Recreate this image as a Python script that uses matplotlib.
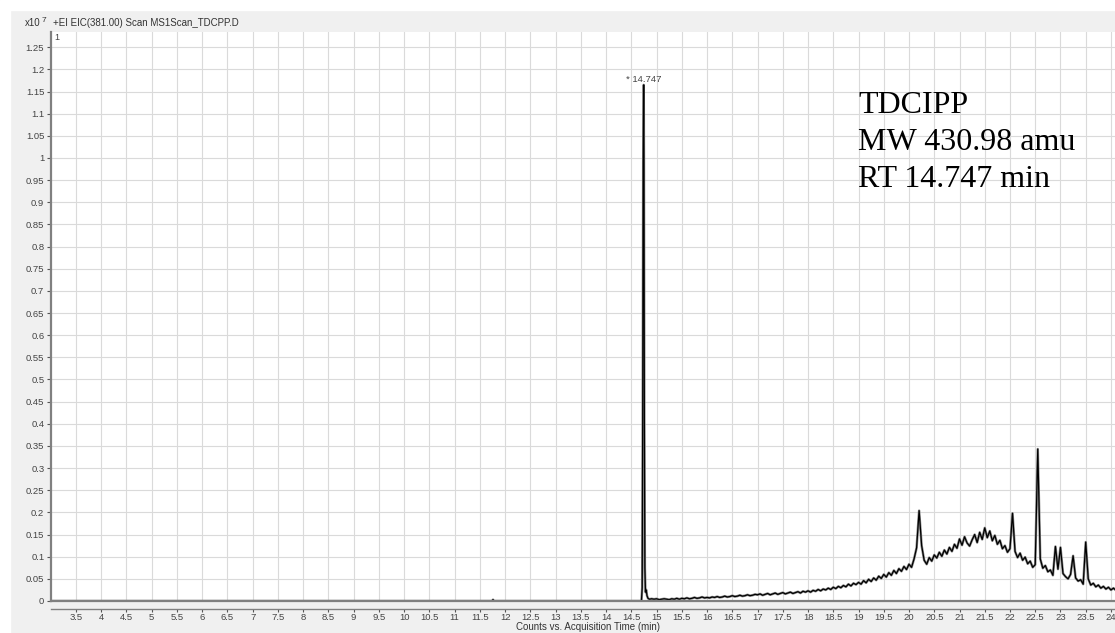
import numpy as np
import matplotlib.pyplot as plt
from matplotlib.patches import Rectangle
from matplotlib.ticker import FuncFormatter

# flat trace before the peak (time in min, counts in units of 1e7)
pre_rt = [2.99, 11.74, 11.76, 11.78, 14.70]
pre_int = [0.0, 0.0, 0.003, 0.0, 0.0]

# the TDCIPP peak
peak_rt = [14.715, 14.725, 14.735, 14.745, 14.750, 14.758, 14.768,
           14.78, 14.795, 14.81, 14.83, 14.86, 14.90, 14.95]
peak_int = [0.03, 0.41, 0.99, 1.165, 0.99, 0.41, 0.075,
            0.02, 0.025, 0.012, 0.006, 0.004, 0.005, 0.004]

# background hump, one reading every 0.05 min from 15.00 to 24.10
hump_int = [
    0.005, 0.003, 0.004, 0.005, 0.004, 0.003, 0.005, 0.004, 0.006, 0.004,
    0.006, 0.005, 0.007, 0.005, 0.006, 0.008, 0.006, 0.007, 0.009, 0.007,
    0.008, 0.007, 0.009, 0.008, 0.010, 0.008, 0.009, 0.011, 0.009, 0.010,
    0.012, 0.010, 0.011, 0.013, 0.011, 0.012, 0.014, 0.012, 0.013, 0.015,
    0.014, 0.016, 0.013, 0.015, 0.017, 0.014, 0.016, 0.018, 0.015, 0.017,
    0.019, 0.016, 0.018, 0.020, 0.017, 0.019, 0.021, 0.018, 0.022, 0.020,
    0.023, 0.020, 0.024, 0.022, 0.026, 0.023, 0.027, 0.025, 0.029, 0.026,
    0.031, 0.028, 0.033, 0.030, 0.035, 0.032, 0.038, 0.034, 0.040, 0.037,
    0.042, 0.038, 0.046, 0.041, 0.049, 0.044, 0.052, 0.047, 0.056, 0.051,
    0.060, 0.054, 0.064, 0.058, 0.069, 0.062, 0.073, 0.067, 0.078, 0.071,
    0.083, 0.076, 0.095, 0.120, 0.204, 0.125, 0.092, 0.083, 0.098, 0.090,
    0.104, 0.097, 0.110, 0.101, 0.115, 0.106, 0.121, 0.112, 0.128, 0.119,
    0.140, 0.126, 0.145, 0.131, 0.124, 0.138, 0.150, 0.132, 0.155, 0.139,
    0.165, 0.143, 0.158, 0.136, 0.148, 0.128, 0.137, 0.118, 0.125, 0.110,
    0.118, 0.198, 0.112, 0.098, 0.108, 0.092, 0.099, 0.084, 0.090, 0.076,
    0.082, 0.343, 0.095, 0.074, 0.080, 0.066, 0.070, 0.058, 0.123, 0.072,
    0.121, 0.062, 0.055, 0.050, 0.060, 0.102, 0.052, 0.045, 0.048, 0.038,
    0.133, 0.050, 0.036, 0.040, 0.032, 0.036, 0.029, 0.033, 0.027, 0.031,
    0.025, 0.029, 0.024,
]
hump_rt = list(np.round(15.0 + 0.05 * np.arange(len(hump_int)), 2))

rt = pre_rt + peak_rt + hump_rt
counts = pre_int + peak_int + hump_int

x_ticks = np.round(np.arange(3.5, 24.01, 0.5), 2)
y_ticks = np.round(np.arange(0, 1.2501, 0.05), 2)

bg = "#f0f0f0"
fig = plt.figure(figsize=(11.15, 6.33), dpi=100, facecolor=bg)
# thin white border on top and left like the screenshot
fig.patches.append(Rectangle((0, 0), 10 / 1115, 1, transform=fig.transFigure,
                             color="white", zorder=-1))
fig.patches.append(Rectangle((0, 1 - 10 / 633), 1, 10 / 633,
                             transform=fig.transFigure, color="white", zorder=-1))

ax = fig.add_axes([50.5 / 1115, 1 - 601 / 633, 1 - 50.5 / 1115, 569 / 633])
ax.set_facecolor("white")

ax.plot(rt, counts, color="#8a8a8a", lw=1.8)
ax.plot(rt, counts, color="black", lw=0.9)
ax.axhline(0, color="#808080", lw=1.6, clip_on=False, zorder=3)

fmt = FuncFormatter(lambda v, pos: f"{round(v, 2):g}")
ax.set_xticks(x_ticks)
ax.set_yticks(y_ticks)
ax.xaxis.set_major_formatter(fmt)
ax.yaxis.set_major_formatter(fmt)
ax.set_xlim(2.995, 24.08)
ax.set_ylim(0, 1.2844)

ax.grid(True, color="#dadada", lw=0.8)
ax.set_axisbelow(True)

for s in ["top", "right"]:
    ax.spines[s].set_visible(False)
ax.spines["left"].set_color("#808080")
ax.spines["left"].set_linewidth(1.6)
ax.spines["bottom"].set_position(("outward", 6))
ax.spines["bottom"].set_color("#808080")
ax.spines["bottom"].set_linewidth(1.0)

ax.tick_params(axis="both", labelsize=6.8, labelcolor="#444444",
               color="#555555", width=0.8)
ax.tick_params(axis="y", length=3, pad=1.5)
ax.tick_params(axis="x", length=2.5, pad=0)
for lab in ax.get_xticklabels() + ax.get_yticklabels():
    lab.set_family("Liberation Sans")

fig.text(588 / 1115, 1 - 627 / 633, "Counts vs. Acquisition Time (min)",
         fontsize=7, family="Liberation Sans", color="#333333",
         ha="center", va="center")

ax.annotate("* 14.747", xy=(14.747, 1.165), xytext=(0, 1),
            textcoords="offset points", ha="center", va="bottom",
            fontsize=6.8, family="Liberation Sans", color="#444444")

# header lines
fig.text(25 / 1115, 1 - 23 / 633, "x10", fontsize=7, family="Liberation Sans",
         color="#333333", va="center")
fig.text(42 / 1115, 1 - 20 / 633, "7", fontsize=6, family="Liberation Sans",
         color="#333333", va="center")
fig.text(53 / 1115, 1 - 23 / 633, "+EI EIC(381.00) Scan MS1Scan_TDCPP.D",
         fontsize=7, family="Liberation Sans", color="#333333", va="center")
fig.text(54 / 1115, 1 - 38 / 633, "1", fontsize=6.5, family="Liberation Sans",
         color="#444444", va="center")

# compound info
for i, line in enumerate(["TDCIPP", "MW 430.98 amu", "RT 14.747 min"]):
    fig.text(858 / 1115, 1 - (113 + 37 * i) / 633, line, fontsize=23,
             family="Liberation Serif", color="black", va="baseline")

fig.savefig("out.png", dpi=100, facecolor=bg)
